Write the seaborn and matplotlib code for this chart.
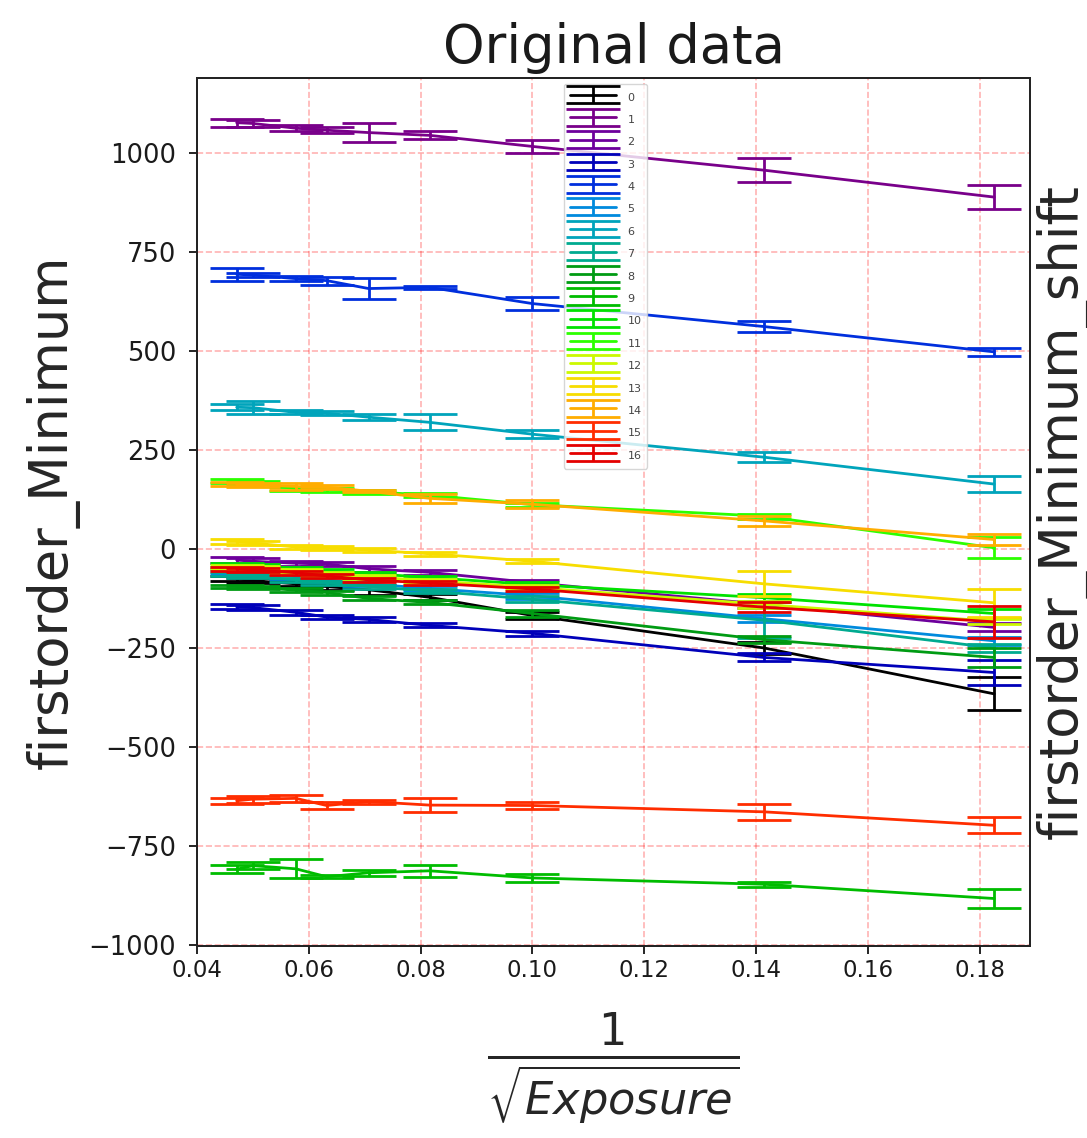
import matplotlib
matplotlib.use("Agg")
import matplotlib.pyplot as plt
from matplotlib.container import ErrorbarContainer
from matplotlib.legend_handler import HandlerErrorbar
import numpy as np
import seaborn as sns

# x = 1/sqrt(exposure), shared by all series
x_vals = [0.0471, 0.0500, 0.0577, 0.0632, 0.0707, 0.0816, 0.1000, 0.1414, 0.1826]
series_labels = [str(i) for i in range(17)]

# firstorder_Minimum per series and its error
min_0 = [-75, -80, -88, -95, -103, -122, -168, -250, -366]
err_0 = [6, 6, 6, 8, 12, 8, 8, 15, 42]
min_1 = [1077, 1075, 1063, 1058, 1052, 1045, 1017, 957, 889]
err_1 = [10, 8, 8, 8, 24, 10, 16, 30, 31]
min_2 = [-28, -31, -36, -38, -50, -59, -85, -140, -198]
err_2 = [7, 7, 6, 6, 7, 6, 7, 8, 10]
min_3 = [-146, -148, -160, -172, -178, -193, -213, -274, -312]
err_3 = [6, 6, 7, 6, 6, 5, 6, 10, 32]
min_4 = [694, 692, 683, 678, 658, 661, 620, 562, 498]
err_4 = [17, 6, 6, 10, 27, 4, 17, 14, 10]
min_5 = [-56, -60, -70, -78, -88, -100, -118, -176, -232]
err_5 = [6, 6, 6, 6, 6, 6, 8, 8, 10]
min_6 = [358, 357, 345, 343, 333, 320, 290, 232, 164]
err_6 = [8, 17, 5, 5, 7, 20, 10, 12, 20]
min_7 = [-62, -68, -78, -85, -95, -106, -127, -180, -250]
err_7 = [5, 5, 5, 5, 5, 6, 8, 45, 10]
min_8 = [-95, -97, -104, -110, -125, -135, -163, -229, -274]
err_8 = [4, 4, 5, 5, 5, 5, 10, 8, 25]
min_9 = [-809, -800, -808, -828, -818, -813, -831, -847, -883]
err_9 = [10, 8, 24, 4, 8, 15, 10, 6, 24]
min_10 = [-40, -44, -50, -55, -62, -72, -90, -123, -163]
err_10 = [5, 5, 5, 5, 5, 5, 6, 10, 12]
min_11 = [171, 168, 152, 150, 145, 136, 112, 83, 3]
err_11 = [5, 5, 5, 5, 5, 5, 5, 6, 27]
min_12 = [-45, -48, -55, -62, -70, -80, -97, -140, -183]
err_12 = [5, 5, 5, 5, 5, 5, 5, 8, 7]
min_13 = [19, 15, 5, 3, -3, -12, -31, -88, -136]
err_13 = [6, 6, 5, 5, 5, 5, 5, 32, 35]
min_14 = [163, 162, 158, 156, 146, 128, 113, 71, 24]
err_14 = [5, 5, 8, 5, 3, 12, 10, 13, 13]
min_15 = [-636, -632, -630, -648, -638, -647, -648, -664, -698]
err_15 = [8, 9, 8, 10, 5, 17, 8, 21, 20]
min_16 = [-50, -53, -60, -68, -78, -86, -101, -147, -184]
err_16 = [5, 5, 5, 5, 5, 5, 6, 12, 40]

means = [min_0, min_1, min_2, min_3, min_4, min_5, min_6, min_7, min_8,
         min_9, min_10, min_11, min_12, min_13, min_14, min_15, min_16]
errs = [err_0, err_1, err_2, err_3, err_4, err_5, err_6, err_7, err_8,
        err_9, err_10, err_11, err_12, err_13, err_14, err_15, err_16]

sns.set_theme(style="ticks")
plt.rcParams["font.family"] = ["DejaVu Sans"]
plt.rcParams["text.color"] = "#1a1a1a"

fig, ax = plt.subplots(figsize=(10.87, 11.38), dpi=100)
fig.subplots_adjust(left=0.1812, right=0.9476, top=0.9315, bottom=0.1687)

colors = plt.cm.nipy_spectral(np.linspace(0, 0.89, len(means)))

handles = []
for ys, es, c in zip(means, errs, colors):
    sns.lineplot(x=x_vals, y=ys, color=c, linewidth=2.0, ax=ax)
    line = ax.lines[-1]
    eb = ax.errorbar(x_vals, ys, yerr=es, fmt="none", ecolor=c,
                     elinewidth=2.0, capsize=19.5, capthick=2.0)
    handles.append((line, eb))

ax.set_xlim(0.04, 0.189)
ax.set_ylim(-1003, 1190)
ax.set_yticks(np.arange(-1000, 1001, 250))
ax.grid(True, color="red", linestyle="--", alpha=0.3, linewidth=1.2)
ax.set_axisbelow(True)

for side in ["left", "bottom", "top", "right"]:
    ax.spines[side].set_color("black")
    ax.spines[side].set_linewidth(1.3)
ax.tick_params(axis="both", length=6, width=1.2, color="black", labelcolor="#1a1a1a")
ax.tick_params(axis="x", labelsize=16.5)
ax.tick_params(axis="y", labelsize=18.5, pad=9)

ax.set_title("Original data", fontsize=38, pad=11)
ax.set_ylabel("firstorder_Minimum", fontsize=38, labelpad=6)
ax.set_xlabel(r"$\frac{1}{\sqrt{Exposure}}$", fontsize=46, labelpad=20)

ax2 = ax.twinx()
ax2.set_yticks([])
ax2.set_ylabel("firstorder_Minimum_shift", fontsize=38, labelpad=4)

leg = ax.legend(handles, series_labels, loc="upper center", bbox_to_anchor=(0.4904, 1.0),
                fontsize=8, handlelength=4.2, handleheight=1.8, labelspacing=0.6,
                handletextpad=1.0, borderpad=0.5, frameon=True,
                handler_map={ErrorbarContainer: HandlerErrorbar(xerr_size=0.5, yerr_size=0.75)})
leg.get_frame().set_edgecolor("0.8")
for t in leg.get_texts():
    t.set_color("#444444")

fig.savefig("out.png", dpi=100)
